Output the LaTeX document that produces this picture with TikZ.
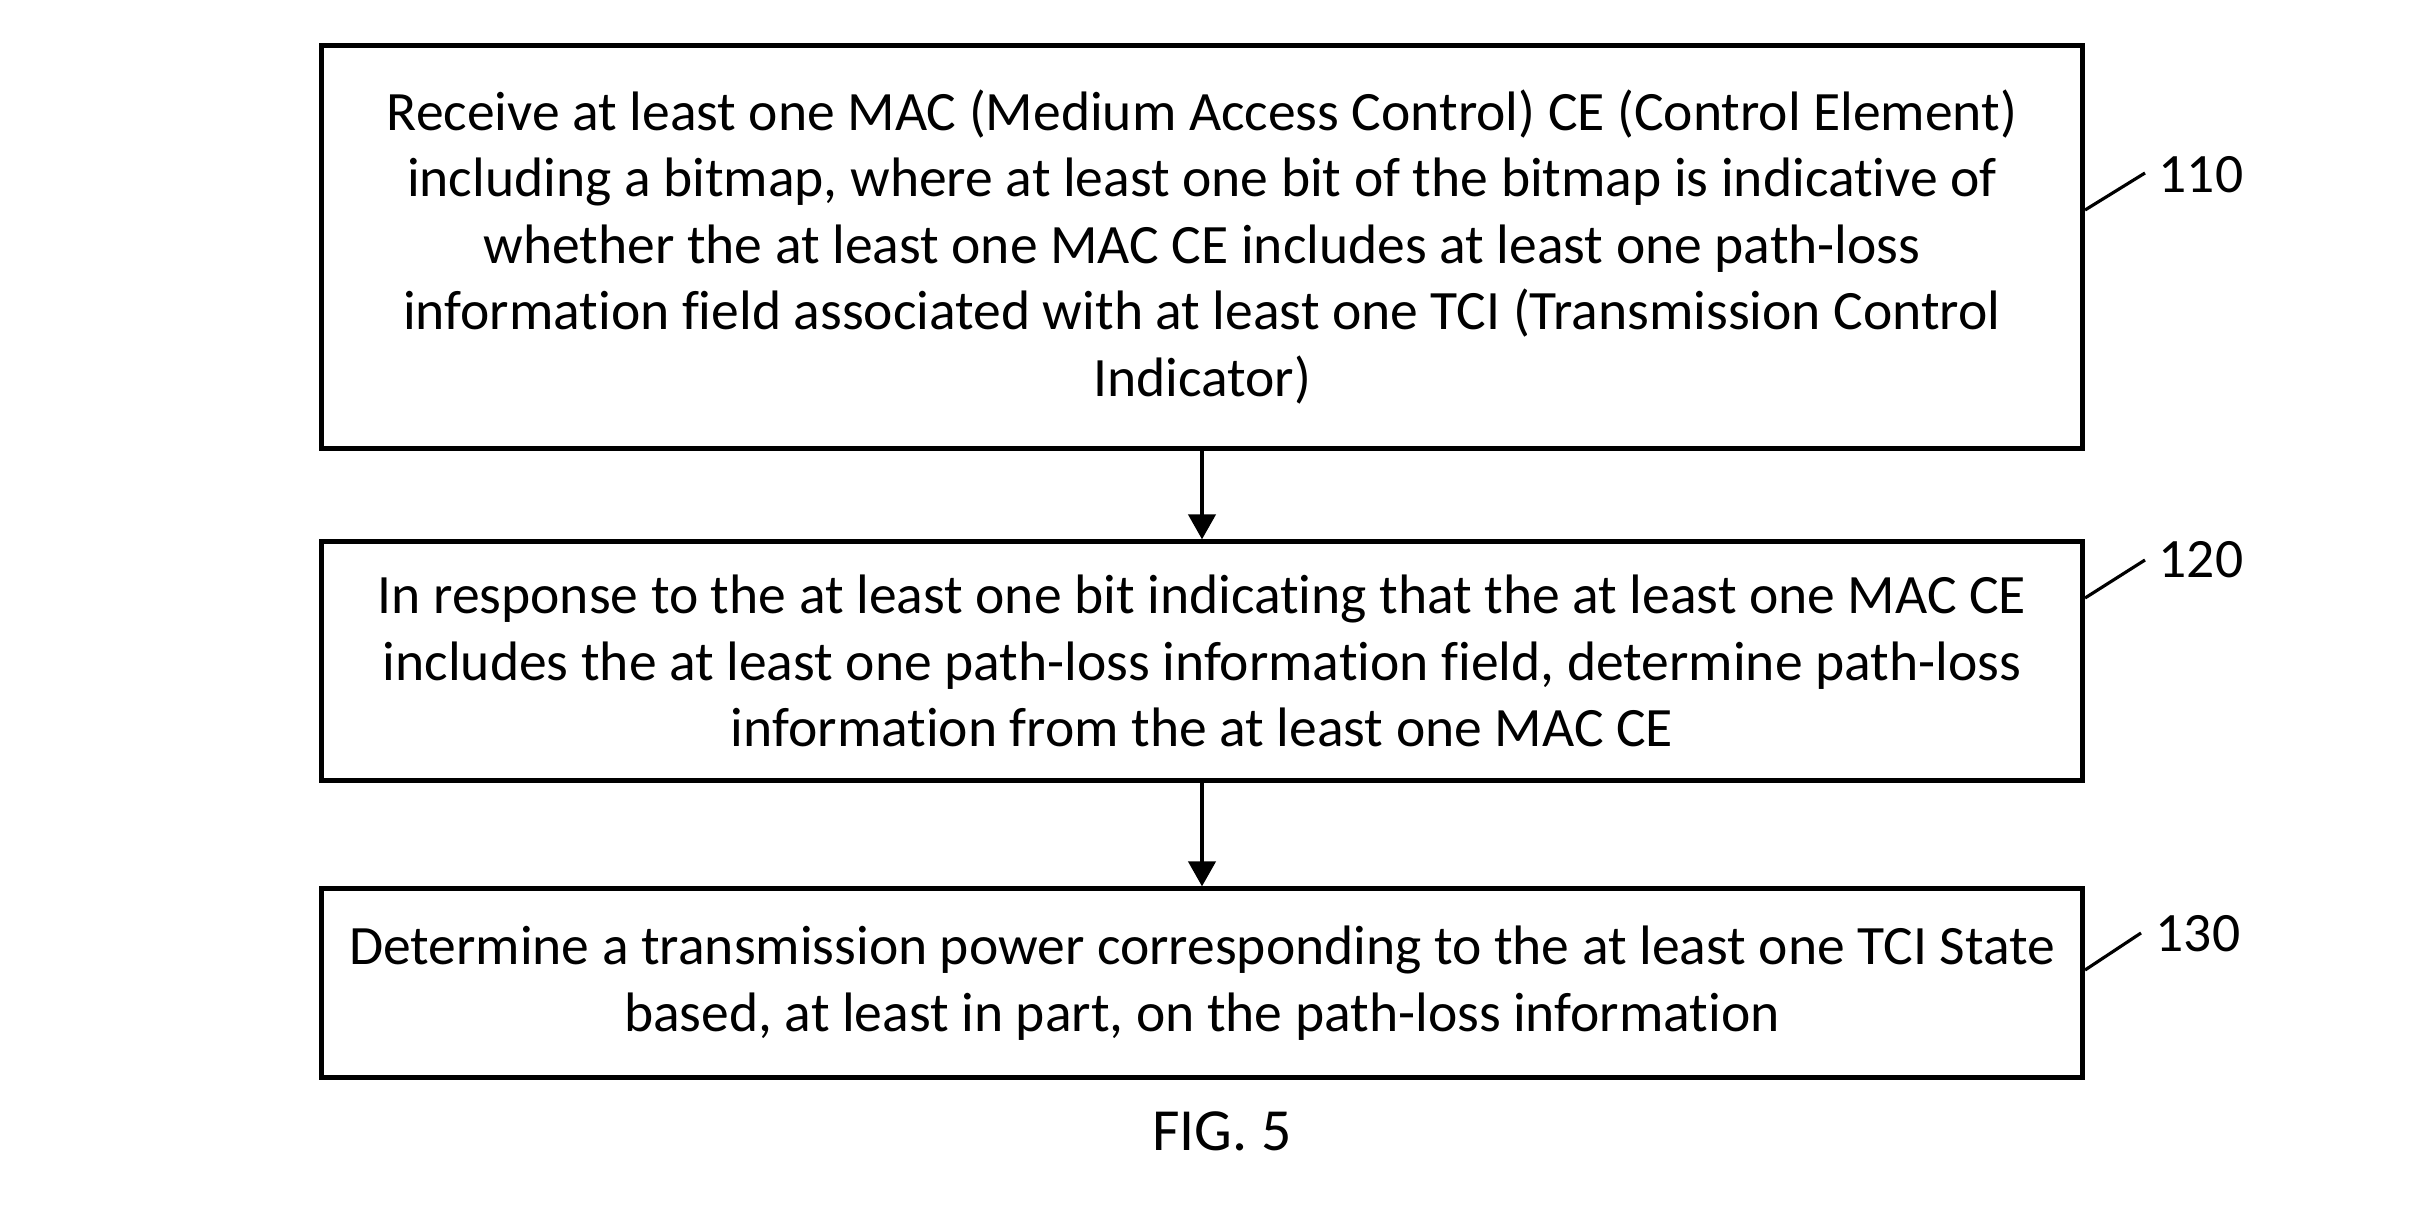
\documentclass[tikz,border=0pt]{standalone}
\usepackage{fontspec}
\setmainfont{Carlito}[Ligatures=NoCommon]
\usetikzlibrary{arrows.meta}
\begin{document}
\begin{tikzpicture}[x=0.01cm,y=-0.01cm,
  stepbox/.style={draw, line width=1.45pt, minimum width=17.6cm, align=center, inner sep=0pt,
    font=\fontsize{15.8pt}{18.9pt}\selectfont},
  flow/.style={line width=1.2pt, -{Triangle[width=0.27cm,length=0.25cm]}},
  leader/.style={line width=0.9pt},
  reflabel/.style={anchor=west, inner sep=0pt, font=\fontsize{15.8pt}{18.9pt}\selectfont}]
\useasboundingbox (0,0) rectangle (2435,1222);
\node[stepbox, minimum height=4.02cm] (b1) at (1202,247) {Receive at least one MAC (Medium Access Control) CE (Control Element)\\including a bitmap, where at least one bit of the bitmap is indicative of\\whether the at least one MAC CE includes at least one path-loss\\information field associated with at least one TCI (Transmission Control\\Indicator)};
\node[stepbox, minimum height=2.38cm] (b2) at (1202,661) {In response to the at least one bit indicating that the at least one MAC CE\\includes the at least one path-loss information field, determine path-loss\\information from the at least one MAC CE};
\node[stepbox, minimum height=1.88cm] (b3) at (1202,983) {Determine a transmission power corresponding to the at least one TCI State\\based, at least in part, on the path-loss information};
\draw[flow] (b1) -- (b2);
\draw[flow] (b2) -- (b3);
\coordinate (s1) at (2084,210);
\coordinate (e1) at (2145,173);
\coordinate (s2) at (2084,598);
\coordinate (e2) at (2145,560);
\coordinate (s3) at (2084,970);
\coordinate (e3) at (2141,933);
\draw[leader] (b1.east |- s1) -- (e1);
\draw[leader] (b2.east |- s2) -- (e2);
\draw[leader] (b3.east |- s3) -- (e3);
\node[reflabel] (r1) at (2158,175) {110};
\node[reflabel] (r2) at (2158,560) {120};
\node[reflabel] (r3) at (2155,934) {130};
\node[inner sep=0pt, font=\fontsize{17pt}{20pt}\selectfont] (fig) at (1222,1131) {FIG. 5};
\end{tikzpicture}
\end{document}
